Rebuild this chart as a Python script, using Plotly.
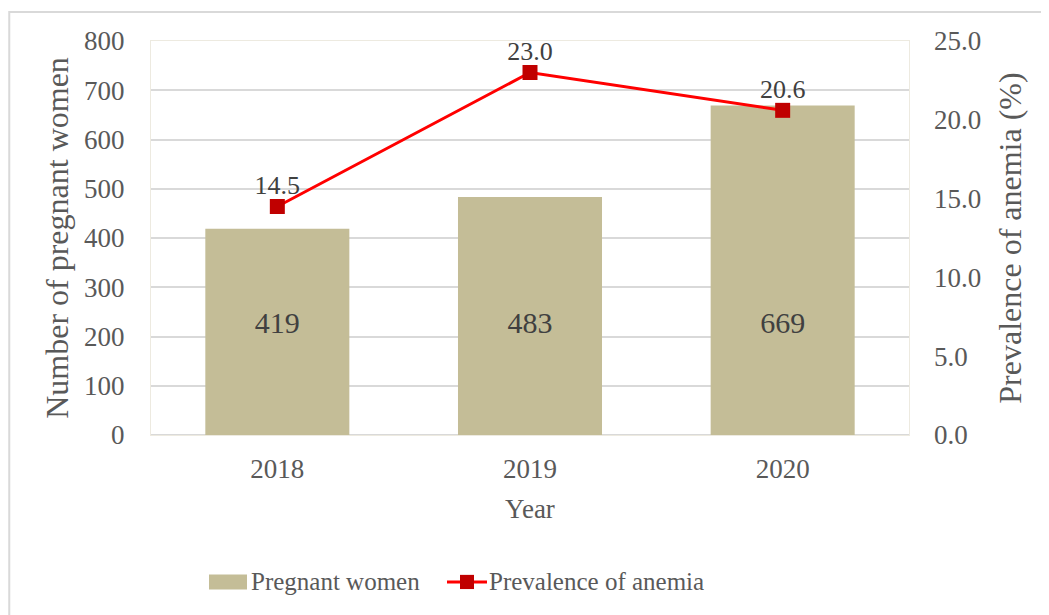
import plotly.graph_objects as go

years = ["2018", "2019", "2020"]
pregnant_women = [419, 483, 669]
anemia_prevalence = [14.5, 23.0, 20.6]
left_ticks = [0, 100, 200, 300, 400, 500, 600, 700, 800]
right_ticks = [0, 5, 10, 15, 20, 25]
bar_label_level = 222  # vertical level where the bar counts are written

FONT = "Liberation Serif, Times New Roman, serif"
GRAY = "#595959"
DARK = "#404040"

fig = go.Figure()
fig.add_trace(go.Bar(
    x=years, y=pregnant_women, name="Pregnant women",
    marker=dict(color="#C4BD97", line=dict(width=0)),
    yaxis="y", showlegend=False, hoverinfo="skip",
))
# bar value labels
fig.add_trace(go.Scatter(
    x=years, y=[bar_label_level] * len(years), mode="text",
    text=[str(v) for v in pregnant_women], textposition="middle center",
    textfont=dict(family=FONT, size=30, color=DARK),
    yaxis="y", showlegend=False, hoverinfo="skip",
))
fig.add_trace(go.Scatter(
    x=years, y=anemia_prevalence, name="Prevalence of anemia",
    mode="lines+markers",
    line=dict(color="#FF0000", width=3),
    marker=dict(symbol="square", size=15, color="#C00000"),
    yaxis="y2", cliponaxis=False, showlegend=False,
))
# line value labels
fig.add_trace(go.Scatter(
    x=years, y=anemia_prevalence, mode="markers+text",
    marker=dict(size=8, color="rgba(0,0,0,0)"),
    text=[f"{v:.1f}" for v in anemia_prevalence],
    textposition="top center",
    textfont=dict(family=FONT, size=26, color=DARK),
    yaxis="y2", cliponaxis=False, showlegend=False, hoverinfo="skip",
))

# outer chart border
fig.add_shape(type="rect", xref="paper", yref="paper",
              x0=-0.187, x1=1.4, y0=-0.7, y1=1.0736,
              line=dict(color="#D9D9D9", width=2), layer="below")

# custom legend (paper coordinates)
leg_y = -0.373
fig.add_shape(type="rect", xref="paper", yref="paper",
              x0=(209 - 151) / 758, x1=(247 - 151) / 758,
              y0=leg_y - 0.019, y1=leg_y + 0.019,
              fillcolor="#C4BD97", line=dict(width=0))
fig.add_annotation(xref="paper", yref="paper", x=(249 - 151) / 758, y=leg_y,
                   xanchor="left", yanchor="middle", showarrow=False,
                   text="Pregnant women", font=dict(family=FONT, size=25, color=GRAY))
fig.add_shape(type="line", xref="paper", yref="paper",
              x0=(447 - 151) / 758, x1=(487 - 151) / 758, y0=leg_y, y1=leg_y,
              line=dict(color="#FF0000", width=3))
fig.add_shape(type="rect", xref="paper", yref="paper",
              x0=(460 - 151) / 758, x1=(474 - 151) / 758,
              y0=leg_y - 0.018, y1=leg_y + 0.018,
              fillcolor="#C00000", line=dict(width=0))
fig.add_annotation(xref="paper", yref="paper", x=(487 - 151) / 758, y=leg_y,
                   xanchor="left", yanchor="middle", showarrow=False,
                   text="Prevalence of anemia", font=dict(family=FONT, size=25, color=GRAY))

# page has an 8px body margin, so the figure is shifted by 8px
fig.update_layout(
    width=1041, height=607,
    margin=dict(l=143, r=140, t=33, b=180),
    paper_bgcolor="white", plot_bgcolor="white",
    font=dict(family=FONT, color=GRAY),
    bargap=0.43,
    showlegend=False,
    xaxis=dict(
        type="category", range=[-0.5, 2.5], automargin=False,
        tickfont=dict(family=FONT, size=27, color=GRAY),
        title=dict(text="Year", font=dict(family=FONT, size=27, color=GRAY), standoff=15),
        showline=True, linecolor="#EDEAE0", linewidth=1, mirror=True,
        ticks="", ticklabelstandoff=10,
    ),
    yaxis=dict(
        range=[0, 800], tickvals=left_ticks, automargin=False,
        tickfont=dict(family=FONT, size=27, color=GRAY),
        title=dict(text="Number of pregnant women", font=dict(family=FONT, size=32, color=GRAY), standoff=5),
        showgrid=True, gridcolor="#D9D9D9", gridwidth=1.5,
        zeroline=True, zerolinecolor="#D9D9D9", zerolinewidth=1.5,
        showline=True, linecolor="#EDEAE0", linewidth=1, mirror=True,
        ticks="", ticklabelstandoff=20,
    ),
    yaxis2=dict(
        range=[0, 25], tickvals=right_ticks, tickformat=".1f", automargin=False,
        overlaying="y", side="right",
        tickfont=dict(family=FONT, size=27, color=GRAY),
        title=dict(text="Prevalence of anemia (%)", font=dict(family=FONT, size=32, color=GRAY), standoff=18),
        showgrid=False, zeroline=False,
        ticks="", ticklabelstandoff=24,
    ),
)

fig.write_html("out.html")
